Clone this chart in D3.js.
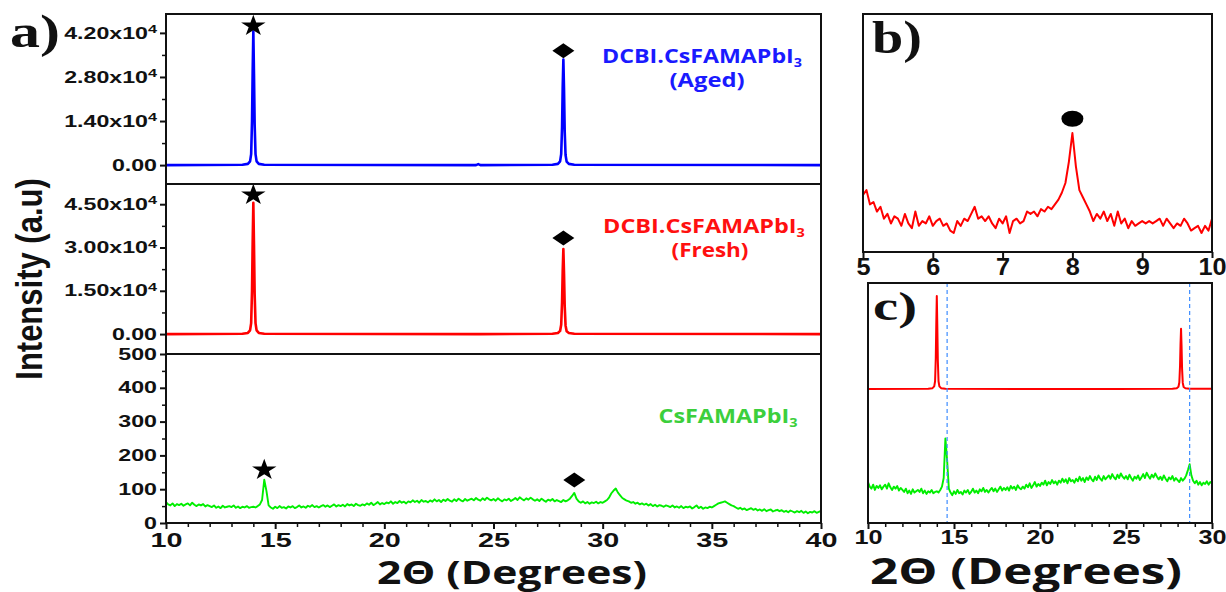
<!DOCTYPE html>
<html>
<head>
<meta charset="utf-8">
<script src="https://cdn.jsdelivr.net/npm/d3@7"></script>
<style>
  body { margin: 0; background: #fff; }
  svg { display: block; }
</style>
</head>
<body>
<svg></svg>
<script>
// XRD patterns
const sharpTheta = [10, 13.5, 13.75, 13.85, 13.9, 13.94, 13.97, 14.0, 14.03, 14.06, 14.1, 14.15, 14.25, 14.5,
    24.2, 24.3, 24.4, 27.7, 27.95, 28.05, 28.1, 28.14, 28.17, 28.2, 28.23, 28.26, 28.3, 28.35, 28.45, 28.7, 40];
const agedCounts = [0, 100, 400, 1200, 3500, 14000, 30000, 42500, 29000, 13000, 3500, 1200, 400, 100,
    0, 300, 0, 100, 400, 1200, 3500, 12000, 25000, 33500, 24000, 11000, 3200, 1100, 400, 100, 0];
const freshCounts = [0, 100, 400, 1300, 3800, 15000, 32000, 45500, 31000, 14000, 3800, 1300, 400, 100,
    0, 0, 0, 100, 400, 1100, 3200, 11000, 22000, 29500, 21000, 10000, 3000, 1000, 400, 100, 0];

// CsFAMAPbI3, 10 to 40 deg, 0.1 deg steps
const pristineStart = 10, pristineStep = 0.1;
const pristineCounts = [
    62, 55, 52, 58, 50, 56, 53, 57, 51, 55,
    58, 52, 60, 54, 50, 55, 52, 56, 49, 53,
    50, 47, 52, 45, 49, 44, 51, 46, 48, 50,
    47, 52, 45, 49, 44, 48, 46, 50, 45, 47,
    48, 46, 50, 55, 68, 128, 95, 52, 46, 42,
    48, 44, 50, 45, 47, 43, 49, 46, 50, 44,
    47, 52, 46, 49, 45, 51, 48, 53, 47, 50,
    46, 50, 53, 48, 52, 47, 51, 55, 49, 53,
    50, 54, 49, 56, 52, 55, 50, 57, 53, 51,
    55, 52, 58, 54, 60, 53, 57, 62, 55, 59,
    56, 61, 58, 64, 57, 62, 59, 65, 60, 63,
    58, 64, 61, 67, 62, 66, 60, 68, 63, 65,
    61, 67, 63, 70, 64, 68, 62, 69, 65, 71,
    66, 63, 70, 65, 72, 67, 64, 71, 66, 69,
    72, 67, 74, 69, 66, 73, 68, 75, 70, 67,
    71, 66, 73, 68, 64, 70, 67, 72, 65, 69,
    74, 68, 76, 71, 67, 73, 69, 75, 70, 66,
    70, 65, 72, 67, 63, 69, 66, 71, 64, 68,
    65, 62, 68, 64, 67, 72, 80, 89, 72, 64,
    60, 64, 58, 62, 57, 61, 59, 63, 58, 62,
    60, 64, 68, 76, 88, 96, 102, 90, 82, 74,
    70, 66, 64, 60, 62, 57, 60, 55, 58, 54,
    57, 52, 56, 50, 54, 49, 53, 51, 48, 52,
    50, 47, 52, 46, 49, 45, 50, 44, 48, 46,
    49, 43, 47, 52, 44, 48, 42, 46, 44, 48,
    46, 50, 54, 58, 60, 62, 64, 60, 56, 52,
    50, 46, 42, 45, 40, 43, 38, 41, 44, 39,
    42, 37, 40, 36, 41, 35, 38, 40, 34, 37,
    39, 35, 38, 33, 36, 32, 37, 34, 31, 35,
    32, 36, 30, 34, 29, 33, 31, 35, 30, 33,
    36
];

// panel b: low-angle region, 5 to 10 deg, 0.05 deg steps
const lowStart = 5, lowStep = 0.05;
const lowCounts = [
    24, 26, 20, 21, 17, 19, 14, 16, 12, 15,
    14, 11, 16, 12, 10, 17, 11, 13, 12, 15,
    11, 13, 14, 11, 12, 9, 8, 13, 11, 14,
    13, 16, 19, 14, 15, 13, 15, 12, 10, 14,
    12, 15, 8, 13, 14, 12, 13, 17, 16, 17,
    15, 18, 17, 19, 18, 20, 22, 25, 29, 38,
    50, 36, 26, 23, 20, 17, 13, 16, 14, 17,
    13, 16, 11, 17, 12, 14, 10, 13, 11, 12,
    13, 12, 13, 12, 13, 14, 11, 14, 12, 10,
    12, 11, 14, 12, 9, 10, 11, 8, 11, 9,
    14
];

// peak markers [2theta, height]
const agedStars = [[14.0, 44200]], agedDiamonds = [[28.2, 36300]];
const freshStars = [[14.0, 48200]], freshDiamonds = [[28.2, 33300]];
const pristineStars = [[14.5, 157]], pristineDiamonds = [[28.7, 127]];
const lowDots = [[8.0, 56]];
const shiftLines = [14.6, 28.7];

const agedTicks = [0, 14000, 28000, 42000];
const freshTicks = [0, 15000, 30000, 45000];
const pristineTicks = [0, 100, 200, 300, 400, 500];
const xTicksA = [10, 15, 20, 25, 30, 35, 40];
const xTicksB = [5, 6, 7, 8, 9, 10];
const xTicksC = [10, 15, 20, 25, 30];

const BLUE = '#0000ff', RED = '#ff0000', GREEN = '#00ee00';
const SANS = '"Liberation Sans", Arial, sans-serif';
const LABEL = '"Open Sans", "Noto Sans", sans-serif';
const SERIF = '"Liberation Serif", "Times New Roman", serif';

const svg = d3.select('svg').attr('width', 1226).attr('height', 592);
svg.append('rect').attr('width', 1226).attr('height', 592).attr('fill', '#fff');

const sharp = counts => sharpTheta.map((t, i) => ({ t, c: counts[i] }));
const stepped = (start, step, counts) => counts.map((c, i) => ({ t: +(start + i * step).toFixed(3), c }));
const aged = sharp(agedCounts), fresh = sharp(freshCounts);
const pristine = stepped(pristineStart, pristineStep, pristineCounts);
const low = stepped(lowStart, lowStep, lowCounts);

// scales
const xA = d3.scaleLinear().domain([10, 40]).range([166, 821]);
const yAged = d3.scaleLinear().domain([-6000, 48000]).range([184, 14]);
const yFresh = d3.scaleLinear().domain([-6900, 52000]).range([354, 184]);
const yPristine = d3.scaleLinear().domain([0, 500]).range([523, 354]);
const xB = d3.scaleLinear().domain([5, 10]).range([863, 1212]);
const yB = d3.scaleLinear().domain([0, 100]).range([252, 14]);
const xC = d3.scaleLinear().domain([10, 30]).range([868, 1212]);
const yCFresh = d3.scaleLinear().domain([-65600, 51900]).range([523, 283]);
const yCPristine = d3.scaleLinear().domain([0, 363]).range([523, 283]);

const defs = svg.append('defs');
function clip(id, x0, y0, x1, y1) {
    defs.append('clipPath').attr('id', id).append('rect')
        .attr('x', x0).attr('y', y0).attr('width', x1 - x0).attr('height', y1 - y0);
    return `url(#${id})`;
}

function trace(data, x, y, color, width, clipUrl) {
    svg.append('path').datum(data)
        .attr('fill', 'none').attr('stroke', color).attr('stroke-width', width)
        .attr('stroke-linejoin', 'round').attr('clip-path', clipUrl)
        .attr('d', d3.line().x(d => x(d.t)).y(d => y(d.c)));
}

trace(aged, xA, yAged, BLUE, 2.6, clip('cA1', 166, 14, 821, 184));
trace(fresh, xA, yFresh, RED, 2.6, clip('cA2', 166, 184, 821, 354));
trace(pristine, xA, yPristine, GREEN, 1.9, clip('cA3', 166, 354, 821, 523));
trace(low, xB, yB, RED, 2, clip('cB', 863, 14, 1212, 252));
const cC = clip('cC', 868, 283, 1212, 523);
trace(fresh, xC, yCFresh, RED, 2, cC);
trace(pristine, xC, yCPristine, GREEN, 1.9, cC);

svg.selectAll('.shift').data(shiftLines).enter().append('line')
    .attr('class', 'shift')
    .attr('x1', d => xC(d)).attr('x2', d => xC(d))
    .attr('y1', 283).attr('y2', 523)
    .attr('stroke', '#3d8cff').attr('stroke-width', 1.2).attr('stroke-dasharray', '4,3');

// markers
const star = d3.symbol().type(d3.symbolStar).size(140);
const diamond = 'M-11,0L0,-7.5L11,0L0,7.5Z';
function markers(points, x, y, path, sx) {
    svg.append('g').selectAll('path').data(points).enter().append('path')
        .attr('transform', d => `translate(${x(d[0])},${y(d[1])}) scale(${sx},1)`)
        .attr('d', path).attr('fill', '#000');
}
markers(agedStars, xA, yAged, star(), 1.15);
markers(freshStars, xA, yFresh, star(), 1.15);
markers(pristineStars, xA, yPristine, star(), 1.15);
markers(agedDiamonds, xA, yAged, diamond, 1);
markers(freshDiamonds, xA, yFresh, diamond, 1);
markers(pristineDiamonds, xA, yPristine, diamond, 1);
svg.append('g').selectAll('ellipse').data(lowDots).enter().append('ellipse')
    .attr('cx', d => xB(d[0])).attr('cy', d => yB(d[1]))
    .attr('rx', 11).attr('ry', 8).attr('fill', '#000');

// axes
function bottomAxis(x, yPos, major, minor, fontSize, sx, pad) {
    if (minor) {
        const gm = svg.append('g').attr('transform', `translate(0,${yPos})`)
            .call(d3.axisBottom(x).tickValues(minor).tickSize(4).tickFormat(''));
        gm.select('.domain').remove();
        gm.selectAll('line').attr('stroke', '#111').attr('stroke-width', 1.5);
    }
    const g = svg.append('g').attr('transform', `translate(0,${yPos})`)
        .call(d3.axisBottom(x).tickValues(major).tickSize(6).tickPadding(pad).tickFormat(d3.format('d')));
    g.select('.domain').remove();
    g.selectAll('line').attr('stroke', '#111').attr('stroke-width', 2);
    g.selectAll('text').attr('font-family', SANS).attr('font-weight', 'bold')
        .attr('font-size', fontSize).attr('fill', '#111')
        .attr('transform', `scale(${sx},1)`);
}
bottomAxis(xA, 523, xTicksA, d3.range(10, 41, 1).filter(v => v % 5), 21, 1.37, 3);
bottomAxis(xB, 252, xTicksB, null, 23, 1.1, 1);
bottomAxis(xC, 523, xTicksC, d3.range(10, 31, 1).filter(v => v % 5), 21, 1.2, 0);

function leftAxis(y, ticks, minor, sci) {
    const gm = svg.append('g').attr('transform', 'translate(166,0)')
        .call(d3.axisLeft(y).tickValues(minor).tickSize(4).tickFormat(''));
    gm.select('.domain').remove();
    gm.selectAll('line').attr('stroke', '#111').attr('stroke-width', 1.5);
    const g = svg.append('g').attr('transform', 'translate(166,0)')
        .call(d3.axisLeft(y).tickValues(ticks).tickSize(6).tickFormat(''));
    g.select('.domain').remove();
    g.selectAll('line').attr('stroke', '#111').attr('stroke-width', 2);
    g.selectAll('.tick text').each(function (d) {
        const t = d3.select(this)
            .attr('x', -9 / 1.45).attr('transform', 'scale(1.45,1)')
            .attr('font-family', SANS).attr('font-weight', 'bold')
            .attr('font-size', 16).attr('fill', '#111');
        if (!sci) { t.text(d); return; }
        if (d === 0) { t.text('0.00'); return; }
        t.append('tspan').text((d / 1e4).toFixed(2) + 'x10');
        t.append('tspan').attr('dy', '-0.5em').attr('font-size', '0.7em').text('4');
    });
}
leftAxis(yAged, agedTicks, [7000, 21000, 35000], true);
leftAxis(yFresh, freshTicks, [7500, 22500, 37500], true);
leftAxis(yPristine, pristineTicks, [50, 150, 250, 350, 450], false);

// frames
const frame = (x0, y0, x1, y1) => svg.append('rect')
    .attr('x', x0).attr('y', y0).attr('width', x1 - x0).attr('height', y1 - y0)
    .attr('fill', 'none').attr('stroke', '#111').attr('stroke-width', 2);
frame(166, 14, 821, 523);
svg.append('line').attr('x1', 166).attr('x2', 821).attr('y1', 184).attr('y2', 184).attr('stroke', '#111').attr('stroke-width', 2);
svg.append('line').attr('x1', 166).attr('x2', 821).attr('y1', 354).attr('y2', 354).attr('stroke', '#111').attr('stroke-width', 2);
frame(863, 14, 1212, 252);
frame(868, 283, 1212, 523);

// text, stretched horizontally to the widths in the figure
function fitText(x, y, width, anchor, build) {
    const g = svg.append('g').attr('transform', `translate(${x},${y})`);
    const t = g.append('text').attr('text-anchor', anchor);
    build(t);
    const w = t.node().getComputedTextLength();
    g.attr('transform', `translate(${x},${y}) scale(${width / w},1)`);
    return t;
}
const styled = (t, family, size, color) => t.attr('font-family', family)
    .attr('font-weight', 'bold').attr('font-size', size).attr('fill', color);
function formula(t, prefix) {
    t.append('tspan').text(prefix + 'CsFAMAPbI');
    t.append('tspan').attr('font-size', '0.62em').attr('dy', '0.3em').text('3');
}

fitText(10, 47, 50, 'start', t => styled(t, SERIF, 46, '#111').text('a)'));
fitText(872, 53, 50, 'start', t => styled(t, SERIF, 46, '#111').text('b)'));
fitText(873, 320, 44, 'start', t => styled(t, SERIF, 40, '#111').text('c)'));

fitText(702, 63, 200, 'middle', t => { styled(t, LABEL, 20, '#1a1aff'); formula(t, 'DCBI.'); });
fitText(707, 87, 75, 'middle', t => styled(t, LABEL, 20, '#1a1aff').text('(Aged)'));
fitText(704, 233, 202, 'middle', t => { styled(t, LABEL, 20, '#ff1010'); formula(t, 'DCBI.'); });
fitText(710, 257, 77, 'middle', t => styled(t, LABEL, 20, '#ff1010').text('(Fresh)'));
fitText(728, 423, 139, 'middle', t => { styled(t, LABEL, 20, '#3ccf3c'); formula(t, ''); });

fitText(512, 584, 270, 'middle', t => styled(t, LABEL, 32, '#111').text('2Θ (Degrees)'));
fitText(1026, 584, 312, 'middle', t => styled(t, LABEL, 36, '#111').text('2Θ (Degrees)'));

svg.append('text')
    .attr('transform', 'translate(42,279) rotate(-90) scale(1,1.2)')
    .attr('text-anchor', 'middle')
    .attr('font-family', SANS).attr('font-weight', 'bold').attr('font-size', 31).attr('fill', '#111')
    .text('Intensity (a.u)');
</script>
</body>
</html>
